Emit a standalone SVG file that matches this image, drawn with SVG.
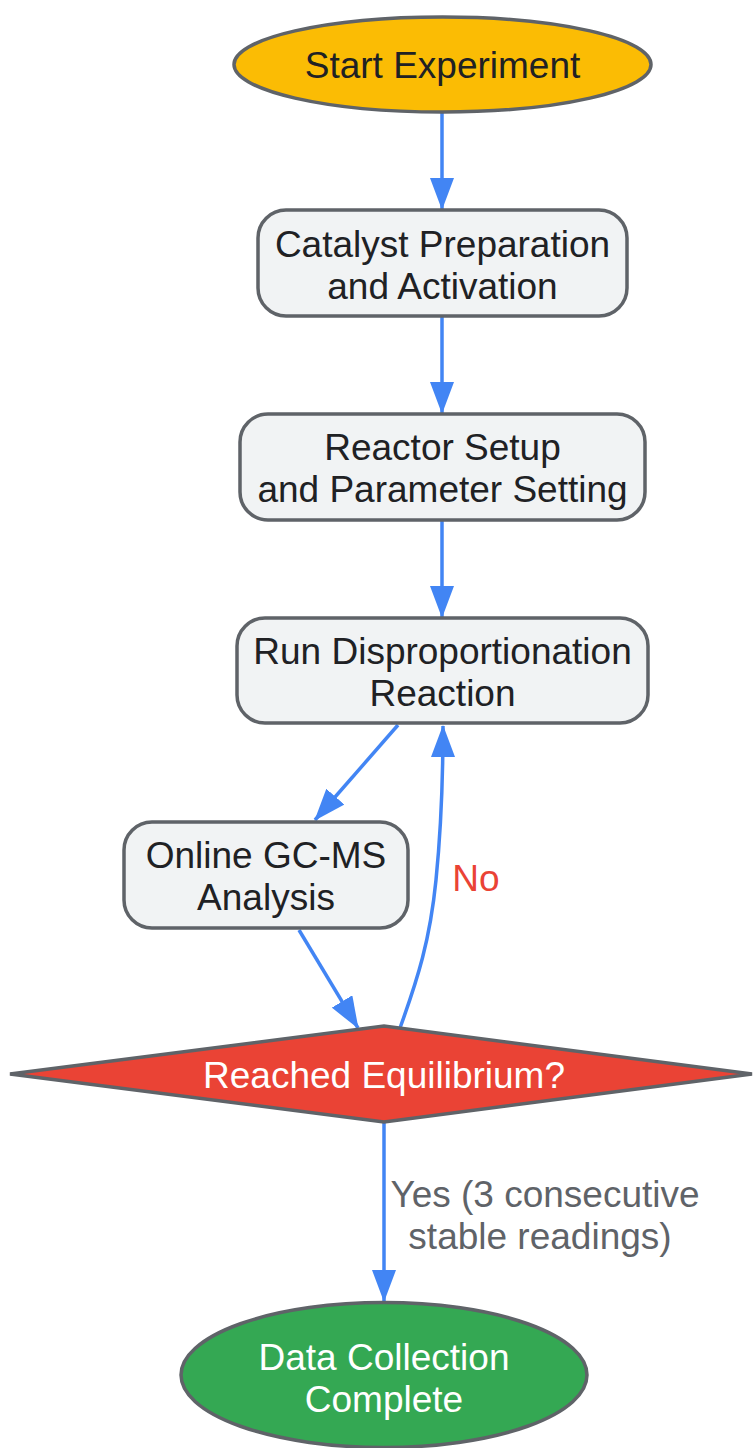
<svg xmlns="http://www.w3.org/2000/svg" width="753" height="1448" viewBox="0 0 753 1448">
<style>
.node{stroke:#5f6368;stroke-width:3.5}
.box{fill:#f1f3f4}
.t{font-family:"Liberation Sans",Arial,sans-serif;font-size:37px;text-anchor:middle;fill:#202124}
.w{fill:#ffffff}
.edge{fill:none;stroke:#4285f4;stroke-width:3.5}
.lbl{font-family:"Liberation Sans",Arial,sans-serif;font-size:37px;text-anchor:middle}
</style>
<defs>
<marker id="arr" viewBox="0 0 32 24" refX="31" refY="12" markerWidth="32" markerHeight="24" markerUnits="userSpaceOnUse" orient="auto">
<path d="M0,0 L32,12 L0,24 z" fill="#4285f4"/>
</marker>
</defs>
<rect width="753" height="1448" fill="#ffffff"/>
<g id="connectors">
<line class="edge" x1="442" y1="113" x2="442" y2="209" marker-end="url(#arr)"/>
<line class="edge" x1="442" y1="317" x2="442" y2="413" marker-end="url(#arr)"/>
<line class="edge" x1="442" y1="521" x2="442" y2="617" marker-end="url(#arr)"/>
<line class="edge" x1="398" y1="725" x2="315" y2="820" marker-end="url(#arr)"/>
<line class="edge" x1="299" y1="930" x2="358" y2="1028" marker-end="url(#arr)"/>
<path class="edge" d="M400,1028 C418,978 430,940 436,880 C441,830 443,790 443,726" marker-end="url(#arr)"/>
<line class="edge" x1="384" y1="1123" x2="384" y2="1301" marker-end="url(#arr)"/>
<text class="lbl" x="476" y="891" fill="#ea4335">No</text>
<text class="lbl" x="545" y="1207" fill="#5f6368">Yes (3 consecutive</text>
<text class="lbl" x="540" y="1249" fill="#5f6368">stable readings)</text>
</g>
<g id="start">
<ellipse class="node" cx="442.5" cy="64.5" rx="208.5" ry="47.5" fill="#fbbc04"/>
<text class="t" x="442.5" y="78">Start Experiment</text>
</g>
<g id="catalyst">
<rect class="node box" x="258" y="210" width="369" height="106" rx="28"/>
<text class="t" x="442.5" y="257">Catalyst Preparation</text>
<text class="t" x="442.5" y="299">and Activation</text>
</g>
<g id="reactor">
<rect class="node box" x="240" y="414" width="405" height="106" rx="28"/>
<text class="t" x="442.5" y="460">Reactor Setup</text>
<text class="t" x="442.5" y="502">and Parameter Setting</text>
</g>
<g id="run">
<rect class="node box" x="237" y="618" width="411" height="105" rx="28"/>
<text class="t" x="442.5" y="664">Run Disproportionation</text>
<text class="t" x="442.5" y="706">Reaction</text>
</g>
<g id="gcms">
<rect class="node box" x="124" y="822" width="284" height="106" rx="28"/>
<text class="t" x="266" y="868">Online GC-MS</text>
<text class="t" x="266" y="910">Analysis</text>
</g>
<g id="decision">
<polygon class="node" points="10,1074 384,1026 752,1074 384,1122" fill="#ea4335"/>
<text class="t w" x="384" y="1088">Reached Equilibrium?</text>
</g>
<g id="end">
<ellipse class="node" cx="384" cy="1375" rx="203" ry="72.5" fill="#34a853"/>
<text class="t w" x="384" y="1370">Data Collection</text>
<text class="t w" x="384" y="1412">Complete</text>
</g>
</svg>
